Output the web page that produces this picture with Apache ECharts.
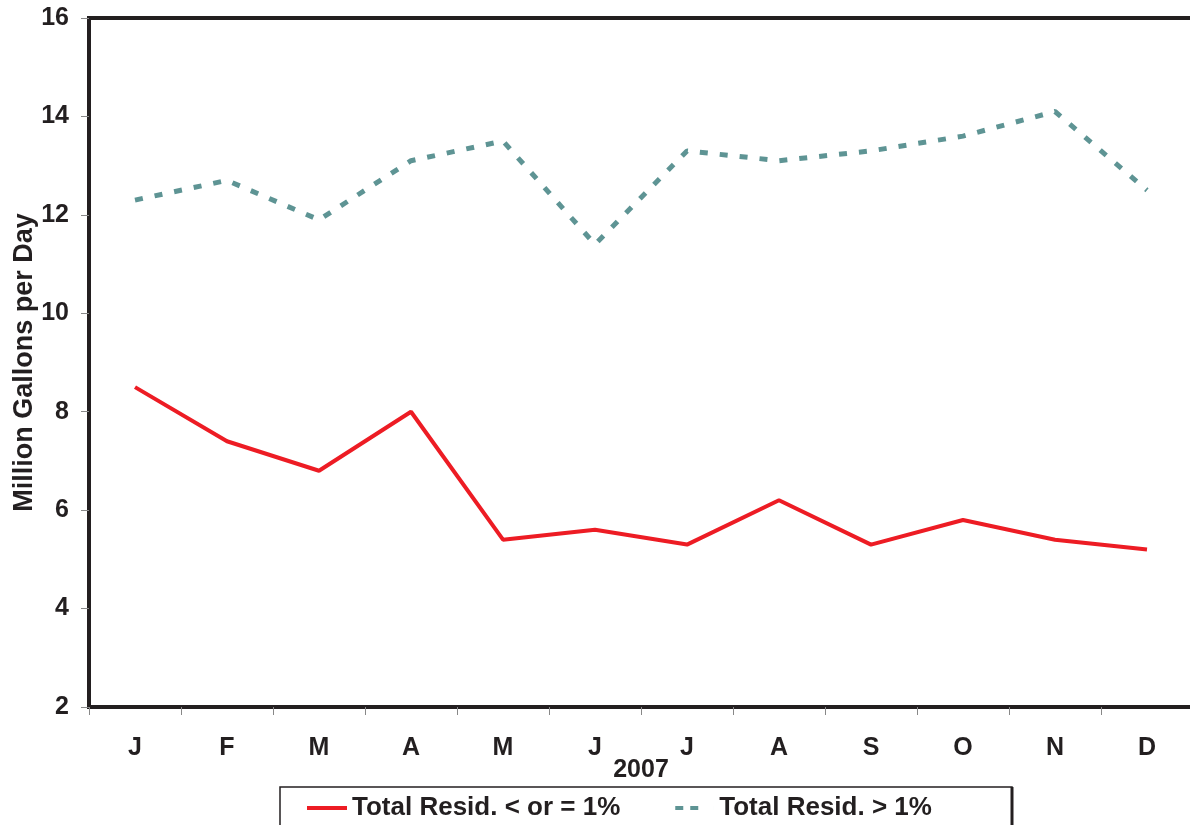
<!DOCTYPE html>
<html>
<head>
<meta charset="utf-8">
<script src="https://cdn.jsdelivr.net/npm/echarts@6/dist/echarts.min.js"></script>
<style>
  html, body { margin: 0; padding: 0; background: #fff; }
  #chart { width: 1190px; height: 825px; }
</style>
</head>
<body>
<div id="chart"></div>
<script>
const months = ['J', 'F', 'M', 'A', 'M', 'J', 'J', 'A', 'S', 'O', 'N', 'D'];
const lowSulfur = [8.5, 7.4, 6.8, 8.0, 5.4, 5.6, 5.3, 6.2, 5.3, 5.8, 5.4, 5.2];
const highSulfur = [12.3, 12.7, 11.9, 13.1, 13.5, 11.4, 13.3, 13.1, 13.3, 13.6, 14.1, 12.5];
const seriesNames = ['Total Resid. < or = 1%', 'Total Resid. > 1%'];
const xAxisName = '2007';
const yAxisName = 'Million Gallons per Day';

const FONT = '"Liberation Sans", Arial, sans-serif';
const INK = '#231f20';
const RED = '#ed1c24';
const TEAL = '#5e9494';

const chart = echarts.init(document.getElementById('chart'), null, { renderer: 'canvas' });
chart.setOption({
  animation: false,
  backgroundColor: '#ffffff',
  grid: {
    left: 89, top: 18, width: 1104, height: 689,
    outerBoundsMode: 'none',
    containLabel: false,
    show: true, borderColor: INK, borderWidth: 4, backgroundColor: 'transparent'
  },
  xAxis: {
    type: 'category',
    data: months,
    boundaryGap: true,
    name: xAxisName,
    nameLocation: 'middle',
    nameGap: 51,
    nameMoveOverlap: false,
    nameTextStyle: { fontFamily: FONT, fontWeight: 'bold', fontSize: 25, color: INK },
    axisLine: { show: true, lineStyle: { color: INK, width: 4 } },
    axisTick: { show: true, alignWithLabel: false, length: 8, inside: false, lineStyle: { color: '#888888', width: 1 } },
    axisLabel: { fontFamily: FONT, fontWeight: 'bold', fontSize: 25, color: INK, margin: 29 },
    splitLine: { show: false }
  },
  yAxis: {
    type: 'value',
    min: 2, max: 16, interval: 2,
    name: yAxisName,
    nameLocation: 'middle',
    nameGap: 51,
    nameMoveOverlap: false,
    nameRotate: 90,
    nameTextStyle: { fontFamily: FONT, fontWeight: 'bold', fontSize: 27, color: INK },
    axisLine: { show: true, lineStyle: { color: INK, width: 4 } },
    axisTick: { show: true, length: 8, lineStyle: { color: '#888888', width: 1 } },
    axisLabel: { fontFamily: FONT, fontWeight: 'bold', fontSize: 25, color: INK, margin: 20 },
    splitLine: { show: false }
  },
  legend: {
    left: 302, top: 790,
    itemWidth: 40, itemHeight: 4,
    itemGap: 55,
    textStyle: { fontFamily: FONT, fontWeight: 'bold', fontSize: 26, color: INK },
    data: [
      { name: seriesNames[0], icon: 'rect' },
      { name: seriesNames[1], icon: 'path://M0,0h8v4h-8zM15,0h8v4h-8zM38,0h0.01v4h-0.01z' }
    ]
  },
  graphic: [
    { type: 'rect', shape: { x: 280, y: 787, width: 732, height: 80 },
      style: { fill: 'transparent', stroke: INK, lineWidth: 1.5 }, silent: true },
    { type: 'line', shape: { x1: 1012, y1: 787, x2: 1012, y2: 830 },
      style: { stroke: INK, lineWidth: 3 }, silent: true }
  ],
  series: [
    {
      name: seriesNames[0], type: 'line', data: lowSulfur,
      symbol: 'none', showSymbol: false,
      lineStyle: { color: RED, width: 4 },
      itemStyle: { color: RED }
    },
    {
      name: seriesNames[1], type: 'line', data: highSulfur,
      symbol: 'none', showSymbol: false,
      lineStyle: { color: TEAL, width: 5, type: [8, 12] },
      itemStyle: { color: TEAL }
    }
  ]
});
</script>
</body>
</html>
